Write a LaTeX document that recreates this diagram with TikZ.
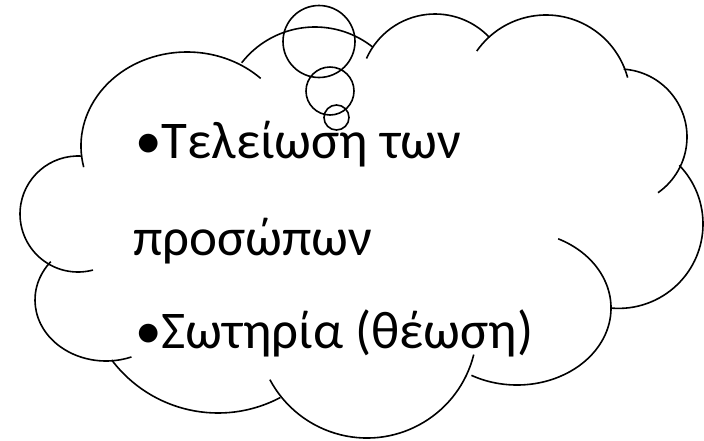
\documentclass[tikz,border=0pt]{standalone}
\usepackage{fontspec}
\setmainfont{Carlito}

\begin{document}
\begin{tikzpicture}[x=1pt,y=-1pt,
  lobe/.style={line width=1.6pt},
  bubble/.style={line width=1.6pt},
  txt/.style={anchor=base west,inner sep=0pt,font=\fontsize{53}{60}\selectfont}]

 \useasboundingbox (0,0) rectangle (704,440);

 % cloud outline, one arc for each lobe
 \draw[lobe] (187,146) ++(167:106 and 94) arc[start angle=167,end angle=314,x radius=106,y radius=94];
 \draw[lobe] (315,120) ++(218:93) arc[start angle=218,end angle=308.5,radius=93];
 \draw[lobe] (435,89) ++(204:75) arc[start angle=204,end angle=316,radius=75];
 \draw[lobe] (546,99.5) ++(215:84.5) arc[start angle=215,end angle=345,radius=84.5];
 \draw[lobe] (619,137) ++(-86:68) arc[start angle=-86,end angle=55,radius=68];
 \draw[lobe] (618.6,224) ++(-44:84.4) arc[start angle=-44,end angle=95,radius=84.4];
 \draw[lobe] (517,308) ++(-64:94 and 77) arc[start angle=-64,end angle=119,x radius=94,y radius=77];
 \draw[lobe] (367,328) ++(14:110) arc[start angle=14,end angle=152,radius=110];
 \draw[lobe] (218,280) ++(62:133) arc[start angle=62,end angle=143,radius=133];
 \draw[lobe] (106,300) ++(219:71 and 61) arc[start angle=219,end angle=69,x radius=71,y radius=61];
 \draw[lobe] (78,214) ++(274:58) arc[start angle=274,end angle=75,radius=58];

 % thought bubbles
 \draw[bubble] (319,41.5) circle[radius=36];
 \draw[bubble] (330,91) circle[radius=24];
 \draw[bubble] (336.5,117.5) circle[radius=12.5];

 \node[txt] (line1) at (135,158) {•Τελείωση των};
 \node[txt] (line2) at (133,255) {προσώπων};
 \node[txt] (line3) at (135,348) {•Σωτηρία (θέωση)};

\end{tikzpicture}
\end{document}
